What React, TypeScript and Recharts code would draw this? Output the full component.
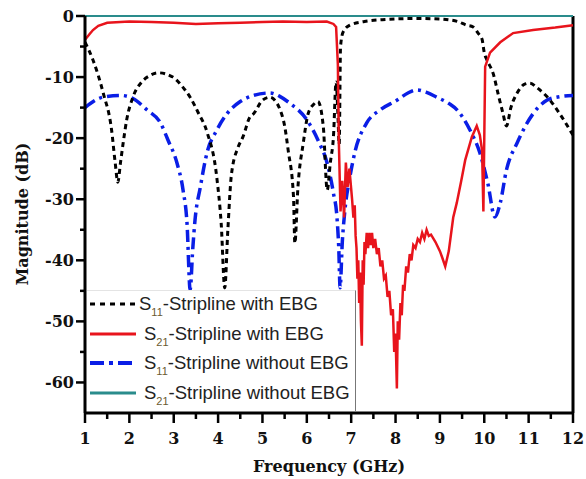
import React from 'react';
import { LineChart, Line, XAxis, YAxis, ReferenceLine } from 'recharts';

// S11 - stripline with EBG (black dotted)
const s11EbgFreq = [
  1.0, 1.18, 1.41, 1.6, 1.68, 1.74, 1.8, 1.86, 1.94, 2.08, 2.28, 2.45, 2.65, 2.98, 3.2, 3.37, 3.55, 3.75,
  3.97, 4.07, 4.15, 4.22, 4.3, 4.45, 4.56, 4.72, 4.8, 5.0, 5.17, 5.3, 5.4, 5.5, 5.58, 5.7, 5.73, 5.8,
  5.92, 6.03, 6.15, 6.25, 6.37, 6.46, 6.53, 6.6, 6.66, 6.7, 6.73, 6.76, 6.82, 6.97, 7.3, 7.7, 8.5, 9.0,
  9.4, 9.6, 9.75, 9.86, 9.95, 10.0, 10.06, 10.2, 10.32, 10.42, 10.5, 10.6, 10.75, 10.9, 11.03, 11.2,
  11.45, 11.7, 12.0,
];
const s11EbgDb = [
  -4.3, -7.2, -12.6, -18.7, -24, -27.2, -24, -20.8, -17, -13.3, -10.8, -9.8, -9.3, -10, -11.6, -13.3, -15.8, -19,
  -26.4, -34, -44.5, -35, -26, -21.5, -19.8, -16.5, -16, -13.8, -13.3, -14, -15.4, -18, -22, -29.6, -37.2, -28,
  -20.8, -16, -14.5, -14, -18, -28.5, -24, -19.8, -10.8, -16, -21, -5, -2.6, -1.5, -0.9, -0.6, -0.4, -0.5,
  -0.9, -1.5, -1.8, -2.8, -3.8, -6, -7.2, -9.4, -13, -15.9, -18, -15, -12.5, -11.2, -11, -11.8,
  -13.5, -16, -19.5,
];

// S21 - stripline with EBG (red, noisy in the stop band)
const s21EbgFreq = [
  1.0, 1.1, 1.18, 1.3, 1.5, 2.0, 2.5, 3.0, 3.5, 4.0, 4.5, 5.0, 5.46, 6.0, 6.45, 6.6, 6.66, 6.7, 6.72, 6.76,
  6.8, 6.84, 6.88, 6.92, 6.96, 7.02, 7.05, 7.08, 7.1, 7.12, 7.14, 7.16, 7.18, 7.2, 7.22, 7.24, 7.26, 7.28,
  7.3, 7.32, 7.35, 7.38, 7.41, 7.44, 7.47, 7.5, 7.54, 7.58, 7.62, 7.66, 7.7, 7.74, 7.78, 7.82, 7.86, 7.9,
  7.94, 7.97, 8.0, 8.03, 8.05, 8.08, 8.11, 8.14, 8.17, 8.2, 8.24, 8.28, 8.32, 8.36, 8.4, 8.45, 8.5, 8.55,
  8.6, 8.65, 8.7, 8.75, 8.8, 8.9, 9.0, 9.05, 9.12, 9.2, 9.3, 9.38, 9.48, 9.57, 9.72, 9.83, 9.9, 9.95,
  9.98, 10.0, 10.02, 10.13, 10.36, 10.65, 11.1, 11.6, 12.0,
];
const s21EbgDb = [
  -3.9, -3.0, -2.3, -1.6, -1.1, -0.9, -1.0, -1.1, -1.3, -1.2, -1.1, -1.0, -0.9, -1.0, -0.9, -1.3, -1.8, -8, -20, -32,
  -27, -33, -24, -28, -25, -30, -33, -31, -36, -38, -43, -40, -47, -42, -50, -54, -40, -44,
  -37, -39, -35.5, -38, -35.5, -37.5, -35.5, -38, -36.5, -39, -38, -41, -40, -43, -42.5, -46, -45, -49,
  -48, -55, -52, -61, -50, -53, -47, -49, -44, -45, -41, -42, -39, -40, -37.5, -38, -36.5, -37,
  -35.5, -36.5, -35, -36, -35.8, -37, -38.5, -39.5, -41, -38.5, -33, -30.6, -27, -23.6, -19.8, -18, -19.5, -22,
  -32, -20, -8.3, -6, -4.3, -2.8, -2.3, -1.9, -1.5,
];

// S11 - stripline without EBG (blue dash-dot)
const s11NoEbgFreq = [
  1.0, 1.4, 1.8, 2.08, 2.4, 2.7, 2.87, 3.07, 3.21, 3.3, 3.37, 3.43, 3.48, 3.6, 3.75, 3.97, 4.2, 4.5, 4.8,
  5.17, 5.4, 5.62, 6.0, 6.25, 6.48, 6.6, 6.68, 6.72, 6.75, 6.8, 6.86, 6.97, 7.08, 7.35, 7.65, 8.03, 8.28,
  8.48, 8.7, 8.93, 9.2, 9.39, 9.68, 9.9, 10.08, 10.24, 10.36, 10.5, 10.74, 11.1, 11.41, 11.7, 12.0,
];
const s11NoEbgDb = [
  -15, -13.3, -13, -13.5, -15.4, -17.5, -20.3, -24, -28.5, -34, -44.8, -38, -33.4, -28, -22.4, -18.7, -16, -14, -13,
  -12.6, -13.2, -14.3, -17, -20.3, -24.7, -29, -33, -38, -44.5, -37, -31.7, -26.4, -22.4, -17.5, -15.4, -13.8, -12.6,
  -12.1, -12.5, -13.3, -14.3, -15.4, -18.7, -22.4, -27.4, -32.9, -30.6, -25.2, -20.8, -16, -13.8, -13.2, -13,
];

// S21 - stripline without EBG (teal)
const s21NoEbgFreq = [1, 12];
const s21NoEbgDb = [0, 0];

const xTicks = [1, 1.5, 2, 2.5, 3, 3.5, 4, 4.5, 5, 5.5, 6, 6.5, 7, 7.5, 8, 8.5, 9, 9.5, 10, 10.5, 11, 11.5, 12];
const yTicks = [-65, -60, -55, -50, -45, -40, -35, -30, -25, -20, -15, -10, -5, 0];

const toRows = (f: number[], v: number[]) => f.map((x, i) => ({ f: x, v: v[i] }));

const tickFont = '"DejaVu Serif", serif';

const XTick = (props: any) => {
  const { x, y, payload } = props;
  const major = Number.isInteger(payload.value);
  return (
    <g>
      <line x1={x} x2={x} y1={y} y2={y + (major ? 10 : 6)} stroke="#000" strokeWidth={2.5} />
      {major && (
        <text x={x} y={y + 31} textAnchor="middle" fontFamily={tickFont} fontWeight="bold" fontSize={16} fill="#111">
          {payload.value}
        </text>
      )}
    </g>
  );
};

const YTick = (props: any) => {
  const { x, y, payload } = props;
  const major = payload.value % 10 === 0;
  if (payload.value === -65) return null;
  return (
    <g>
      <line x1={x - (major ? 9 : 5)} x2={x} y1={y} y2={y} stroke="#000" strokeWidth={2.5} />
      {major && (
        <text x={x - 11} y={y + 6} textAnchor="end" fontFamily={tickFont} fontWeight="bold" fontSize={16} fill="#111">
          {payload.value}
        </text>
      )}
    </g>
  );
};

const legendItems = [
  { sub: '11', text: '-Stripline with EBG', color: '#000', width: 3, dash: '5 5', textX: 52 },
  { sub: '21', text: '-Stripline with EBG', color: '#e8141c', width: 3, dash: undefined, textX: 57 },
  { sub: '11', text: '-Stripline without EBG', color: '#0a1ee6', width: 4, dash: '14 5 4 5', textX: 57 },
  { sub: '21', text: '-Stripline without EBG', color: '#2a8c8c', width: 3, dash: undefined, textX: 57 },
];

export default function App() {
  return (
    <div style={{ position: 'absolute', left: 0, top: 0, width: 586, height: 479, background: '#fff' }}>
      <LineChart width={586} height={479} margin={{ top: 16, right: 13, left: 0, bottom: 0 }}>
        <XAxis
          type="number"
          dataKey="f"
          domain={[1, 12]}
          ticks={xTicks}
          interval={0}
          tick={<XTick />}
          tickLine={false}
          tickSize={0}
          tickMargin={0}
          height={66}
          axisLine={{ stroke: '#000', strokeWidth: 3 }}
          allowDuplicatedCategory={false}
        />
        <YAxis
          type="number"
          domain={[-65, 0]}
          ticks={yTicks}
          interval={0}
          tick={<YTick />}
          tickLine={false}
          tickSize={0}
          tickMargin={0}
          width={85}
          axisLine={{ stroke: '#000', strokeWidth: 3 }}
        />
        <ReferenceLine x={12} stroke="#000" strokeWidth={3} />
        <Line
          data={toRows(s21NoEbgFreq, s21NoEbgDb)}
          dataKey="v"
          type="linear"
          stroke="#2a8c8c"
          strokeWidth={2}
          dot={false}
          isAnimationActive={false}
        />
        <Line
          data={toRows(s11NoEbgFreq, s11NoEbgDb)}
          dataKey="v"
          type="monotone"
          stroke="#0a1ee6"
          strokeWidth={3.5}
          strokeDasharray="12 5 3 5"
          dot={false}
          isAnimationActive={false}
        />
        <Line
          data={toRows(s11EbgFreq, s11EbgDb)}
          dataKey="v"
          type="monotone"
          stroke="#000"
          strokeWidth={3}
          strokeDasharray="5 4"
          dot={false}
          isAnimationActive={false}
        />
        <Line
          data={toRows(s21EbgFreq, s21EbgDb)}
          dataKey="v"
          type="linear"
          stroke="#e8141c"
          strokeWidth={2.5}
          dot={false}
          isAnimationActive={false}
        />
      </LineChart>

      {/* axis titles */}
      <div
        style={{
          position: 'absolute', left: 22, top: 214, transform: 'translate(-50%, -50%) rotate(-90deg)',
          whiteSpace: 'nowrap', fontFamily: tickFont, fontWeight: 'bold', fontSize: 16, color: '#111',
        }}
      >
        Magnitude (dB)
      </div>
      <div
        style={{
          position: 'absolute', left: 329, top: 466, transform: 'translate(-50%, -50%)',
          whiteSpace: 'nowrap', fontFamily: tickFont, fontWeight: 'bold', fontSize: 16, color: '#111',
        }}
      >
        Frequency (GHz)
      </div>

      {/* legend */}
      <div
        style={{
          position: 'absolute', left: 87, top: 290, width: 269, height: 121, background: '#fff',
          borderRight: '1px solid #777', borderTop: '1px solid #e4e4e4', boxSizing: 'border-box',
        }}
      >
        {legendItems.map((it, i) => (
          <div key={i} style={{ position: 'absolute', left: 0, top: 1 + i * 29.5, height: 26, width: 268 }}>
            <svg width={50} height={26} style={{ position: 'absolute', left: 2, top: 0 }}>
              <line x1={1} x2={47} y1={12} y2={12} stroke={it.color} strokeWidth={it.width} strokeDasharray={it.dash} />
            </svg>
            <span
              style={{
                position: 'absolute', left: it.textX, top: 0, whiteSpace: 'nowrap',
                fontFamily: '"Liberation Sans", Arial, sans-serif', fontSize: 18.5, lineHeight: '24px', color: '#222',
              }}
            >
              S<sub style={{ fontSize: 11, color: '#6a5a30', verticalAlign: -6 }}>{it.sub}</sub>{it.text}
            </span>
          </div>
        ))}
      </div>
    </div>
  );
}
